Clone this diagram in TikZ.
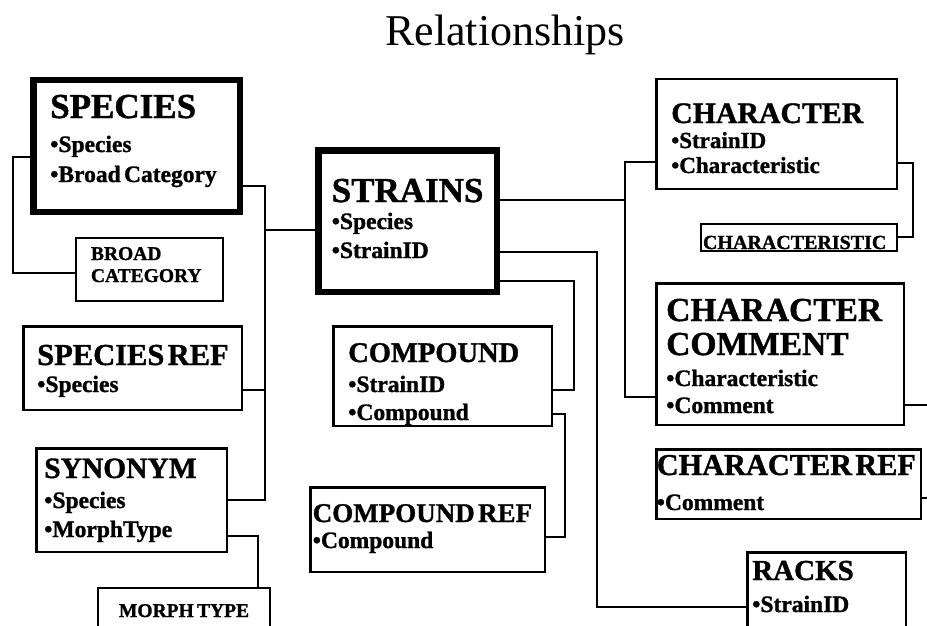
\documentclass[tikz,border=0pt]{standalone}
\usepackage{fontspec}
\setmainfont{Liberation Serif}[BoldFeatures={FakeBold=1.2}]
\usetikzlibrary{positioning, calc}

% one line of a table box: size, baseline skip, text
\newcommand{\fieldline}[3]{{\fontsize{#1}{#2}\selectfont\mbox{#3}\par}}

\begin{document}
\begin{tikzpicture}[
    x=1pt, y=-1pt, % pixel grid of the slide
    % Styles
    tablebox/.style={ % Ordinary table
        draw,
        line width=2.5pt,
        anchor=north west,
        align=left,
        inner ysep=0pt,
        font=\bfseries
    },
    keytable/.style={ % Main tables
        tablebox,
        line width=6.5pt
    },
    lookup/.style={ % Small lookup tables
        tablebox,
        line width=2pt
    },
    dims/.style n args={4}{ % left pad, text width, first baseline, rest
        inner xsep=#1pt,
        text width=#2pt,
        text height=#3pt,
        text depth=#4pt
    },
    link/.style={
        line width=2pt
    }
]
    \useasboundingbox (0,0) rectangle (927,626);
    \clip (0,0) rectangle (927,626);

    \node[anchor=base, font=\fontsize{44}{44}\selectfont] (title) at (505,46) {Relationships};

    % Species side
    \node[keytable, dims={17}{172.5}{37.75}{93.75}] (species) at (30,77)
        {\fieldline{35}{35}{SPECIES}\fieldline{23.5}{34}{•Species}\fieldline{23.5}{30}{•Broad Category}};
    \node[lookup, dims={15}{117}{22}{41}] (broad) at (75,237)
        {\fieldline{19.5}{19.5}{BROAD}\fieldline{19.5}{22}{CATEGORY}};
    \node[tablebox, dims={14}{190.5}{38.75}{44.75}] (speciesref) at (22,325)
        {\fieldline{30.5}{30.5}{SPECIES REF}\fieldline{23.5}{27}{•Species}};
    \node[tablebox, dims={8}{174.5}{29.75}{73.75}] (synonym) at (35,447)
        {\fieldline{29.5}{29.5}{SYNONYM}\fieldline{23.5}{30}{•Species}\fieldline{23.5}{29}{•MorphType}};
    \node[lookup, dims={21}{130}{29}{50}] (morph) at (97,587)
        {\fieldline{19.5}{19.5}{MORPH TYPE}};

    % Strains and compounds
    \node[keytable, dims={13.5}{151.5}{51.75}{89.75}] (strains) at (315,147)
        {\fieldline{35}{35}{STRAINS}\fieldline{23.5}{27}{•Species}\fieldline{23.5}{29}{•StrainID}};
    \node[tablebox, dims={15}{188.5}{35.75}{63.75}] (compound) at (332,325)
        {\fieldline{28.5}{28.5}{COMPOUND}\fieldline{23.5}{30}{•StrainID}\fieldline{23.5}{28}{•Compound}};
    \node[tablebox, dims={2.5}{229.5}{34.75}{49.75}] (compoundref) at (309,486)
        {\fieldline{27}{27}{COMPOUND REF}\fieldline{23.5}{26}{•Compound}};

    % Character side
    \node[tablebox, dims={15}{210.5}{43.75}{65.75}] (character) at (655,78)
        {\fieldline{29.8}{29.8}{CHARACTER}\fieldline{23}{25}{•StrainID}\fieldline{23}{25}{•Characteristic}};
    \node[lookup, dims={2}{192}{25}{2}] (charistic) at (700,223)
        {\fieldline{20}{20}{CHARACTERISTIC}};
    \node[tablebox, dims={10}{227.5}{37.75}{103.75}] (charcomment) at (655,282)
        {\fieldline{33.5}{33.5}{CHARACTER}\fieldline{33.5}{34}{COMMENT}\fieldline{23.5}{31}{•Characteristic}\fieldline{23.5}{27}{•Comment}};
    \node[tablebox, dims={0.5}{263.5}{25.75}{43.75}] (charref) at (655,448)
        {\fieldline{30.3}{30.3}{CHARACTER REF}\fieldline{23.5}{35}{•Comment}};
    \node[tablebox, dims={5}{148.5}{27.75}{80}] (racks) at (746,551)
        {\fieldline{29}{29}{RACKS}\fieldline{23.5}{32}{•StrainID}};

    % Links on the species side
    \draw[link] (species.west |- 0,157) -| (13,273) -- (broad.west |- 0,273);
    \draw[link] (species.east |- 0,186) -| (265,230) -- (strains.west |- 0,230);
    \draw[link] (speciesref.east |- 0,390) -| (265,230) -- (strains.west |- 0,230);
    \draw[link] (synonym.east |- 0,500) -| (265,230) -- (strains.west |- 0,230);
    \draw[link] (synonym.east |- 0,536) -| (258,0 |- morph.north);

    % Links from strains
    \draw[link] (strains.east |- 0,200) -| (625,162) -- (character.west |- 0,162);
    \draw[link] (strains.east |- 0,200) -| (625,397) -- (charcomment.west |- 0,397);
    \draw[link] (strains.east |- 0,252) -| (597,607) -- (racks.west |- 0,607);
    \draw[link] (strains.east |- 0,281) -| (574,390) -- (compound.east |- 0,390);
    \draw[link] (compound.east |- 0,414) -| (565,537) -- (compoundref.east |- 0,537);

    % Links on the character side
    \draw[link] (character.east |- 0,163) -| (913,237) -- (charistic.east |- 0,237);
    \coordinate (edgeA) at (930,405);
    \coordinate (edgeB) at (930,498);
    \draw[link] (charcomment.east |- edgeA) -- (edgeA);
    \draw[link] (charref.east |- edgeB) -- (edgeB);
\end{tikzpicture}
\end{document}
